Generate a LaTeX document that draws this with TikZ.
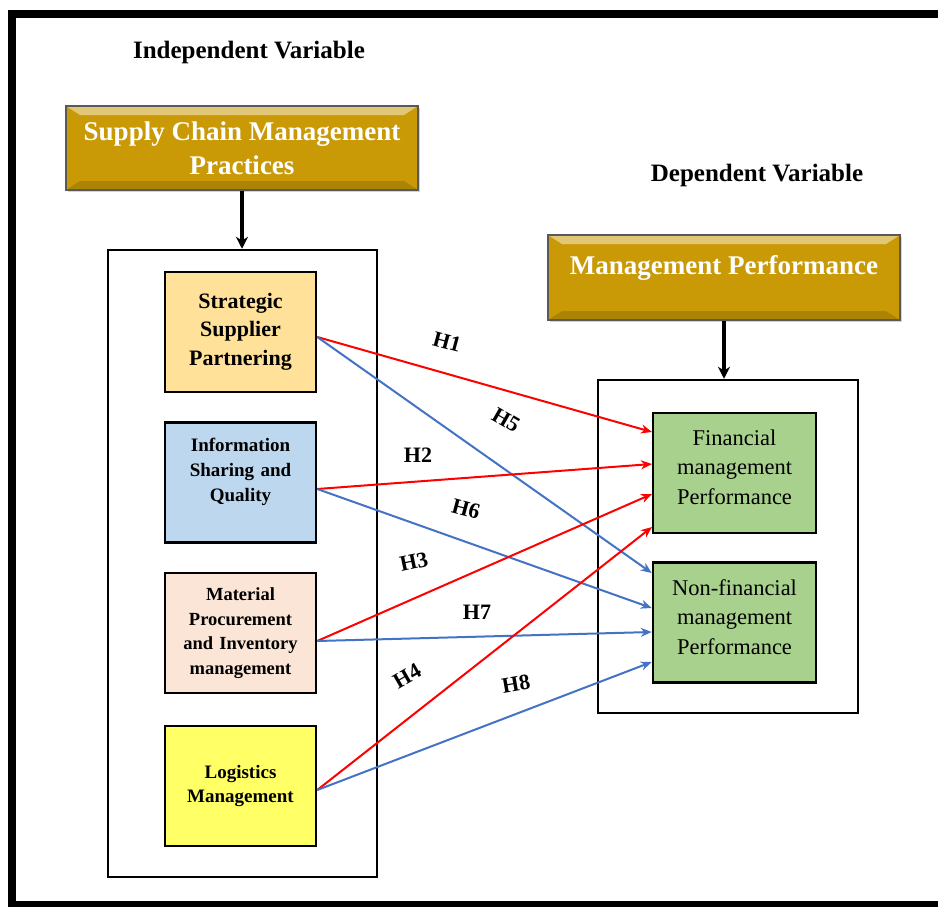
\documentclass[tikz,border=0pt]{standalone}
\usepackage{fontspec}
\setmainfont{Liberation Serif}
\usetikzlibrary{arrows.meta,calc,shadows}

\definecolor{gold}{RGB}{201,154,6}
\definecolor{partnercol}{RGB}{255,225,153}
\definecolor{infocol}{RGB}{189,215,238}
\definecolor{materialcol}{RGB}{251,229,214}
\definecolor{logisticscol}{RGB}{255,255,102}
\definecolor{perfcol}{RGB}{169,209,142}
\definecolor{hblue}{RGB}{68,114,196}

\begin{document}
\begin{tikzpicture}[x=1pt, y=-1pt,
  goldbox/.style={fill=gold, draw=black!65, line width=2.5pt, align=center, text=white,
    font=\bfseries\fontsize{27}{34}\selectfont, drop shadow={opacity=0.35, shadow xshift=2pt, shadow yshift=-2pt},
    path picture={
      \fill[gold!55!white] (path picture bounding box.north west) -- (path picture bounding box.north east)
        -- ([xshift=-14pt,yshift=-9pt]path picture bounding box.north east) -- ([xshift=14pt,yshift=-9pt]path picture bounding box.north west) -- cycle;
      \fill[gold!85!black] (path picture bounding box.south west) -- (path picture bounding box.south east)
        -- ([xshift=-14pt,yshift=9pt]path picture bounding box.south east) -- ([xshift=14pt,yshift=9pt]path picture bounding box.south west) -- cycle;
    }},
  practice/.style={draw, line width=2.5pt, minimum width=151pt, minimum height=120pt, align=center, text width=140pt},
  perf/.style={draw, fill=perfcol, line width=2pt, minimum width=163pt, minimum height=120pt, align=center, text width=150pt,
    font=\fontsize{22.5}{29.5}\selectfont},
  hyp/.style={font=\bfseries\fontsize{22}{26}\selectfont},
  redarrow/.style={draw=red, line width=2pt, -{Stealth[length=11pt, width=9pt]}},
  bluearrow/.style={draw=hblue, line width=2pt, -{Stealth[length=11pt, width=9pt]}}]
\useasboundingbox (0,0) rectangle (938,906);
\fill[white] (0,0) rectangle (938,906);
\draw[line width=8pt] (12,14) rectangle (960,905);

% independent side
\node[font=\bfseries\fontsize{25}{28}\selectfont] (indep) at (249,52) {Independent Variable};
\node[goldbox, minimum width=352pt, minimum height=84pt] (scm) at (242,148) {Supply Chain Management\\Practices};
\node[draw, line width=2.5pt, minimum width=269pt, minimum height=627pt] (left) at (242.5,563.5) {};

\node[practice, fill=partnercol, font=\bfseries\fontsize{22}{28.5}\selectfont] (partner) at (240.5,332) {Strategic\\Supplier\\Partnering\\[-22.5pt]\mbox{}};
\node[practice, fill=infocol, font=\bfseries\fontsize{19}{25}\selectfont] (info) at (240.5,482.5) {Information\\Sharing and\\Quality\\\mbox{}};
\node[practice, fill=materialcol, font=\bfseries\fontsize{18.5}{24.5}\selectfont] (material) at (240.5,633) {Material\\Procurement\\and Inventory\\management};
\node[practice, fill=logisticscol, font=\bfseries\fontsize{19}{24.5}\selectfont] (logistics) at (240.5,786) {Logistics\\Management};

% dependent side
\node[font=\bfseries\fontsize{25}{28}\selectfont] (dep) at (757,175) {Dependent Variable};
\node[goldbox, minimum width=352pt, minimum height=85pt] (mgmt) at (724,277.5) {Management Performance\\[-9pt]};
\node[draw, line width=2.5pt, minimum width=260pt, minimum height=333pt] (right) at (728,546.5) {};

\node[perf] (fin) at (734.5,473) {Financial\\management\\Performance\\[-17.5pt]\mbox{}};
\node[perf, line width=2.5pt] (nonfin) at (734.5,622.5) {Non-financial\\management\\Performance\\[-18.5pt]\mbox{}};

\draw[line width=4pt, -{Stealth[length=12pt, width=12pt]}, xshift=-9pt] (scm.south) -- (scm.south |- left.north);
\draw[line width=4pt, -{Stealth[length=12pt, width=12pt]}, xshift=-4pt] (mgmt.south) -- (mgmt.south |- right.north);

% hypotheses
\draw[redarrow] ($(partner.east)+(0,5)$) -- ($(fin.west)+(0,-41)$);
\draw[bluearrow] ($(partner.east)+(0,5)$) -- ($(nonfin.west)+(0,-49.5)$);
\draw[redarrow] ($(info.east)+(0,6.5)$) -- ($(fin.west)+(0,-9)$);
\draw[bluearrow] ($(info.east)+(0,6.5)$) -- ($(nonfin.west)+(0,-14.5)$);
\draw[redarrow] ($(material.east)+(0,8)$) -- ($(fin.west)+(0,21)$);
\draw[bluearrow] ($(material.east)+(0,8)$) -- ($(nonfin.west)+(0,9.5)$);
\draw[redarrow] ($(logistics.east)+(0,4)$) -- ($(fin.west)+(0,54)$);
\draw[bluearrow] ($(logistics.east)+(0,4)$) -- ($(nonfin.west)+(0,39.5)$);

\node[hyp, rotate=-15] (h1) at (447,342) {H1};
\node[hyp, rotate=-30] (h5) at (506,420) {H5};
\node[hyp] (h2) at (418,455) {H2};
\node[hyp, rotate=-15] (h6) at (466,509) {H6};
\node[hyp, rotate=12] (h3) at (414,562) {H3};
\node[hyp] (h7) at (477,612) {H7};
\node[hyp, rotate=30] (h4) at (407,676) {H4};
\node[hyp, rotate=10] (h8) at (516,684) {H8};
\end{tikzpicture}
\end{document}
